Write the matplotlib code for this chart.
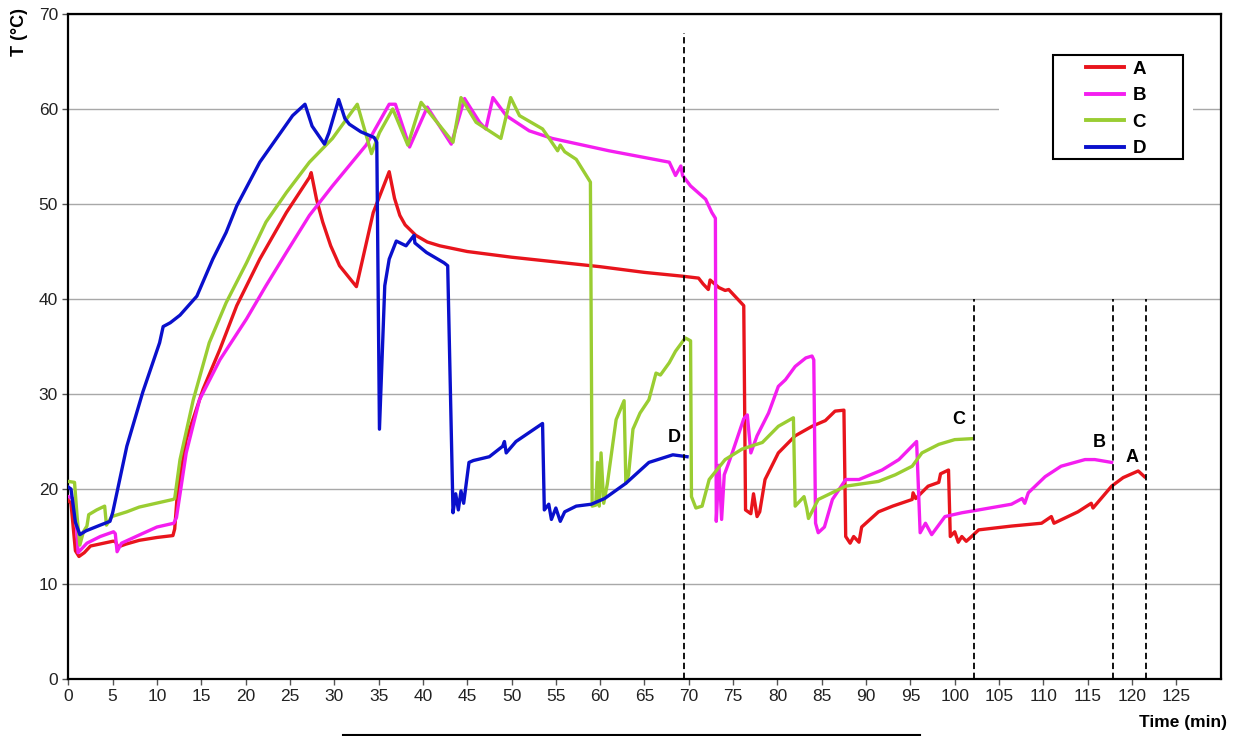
import matplotlib
matplotlib.use('Agg')
from matplotlib import pyplot as plt
from matplotlib.patches import Rectangle
from matplotlib.lines import Line2D

plt.rcParams['font.family'] = ['Liberation Sans', 'DejaVu Sans']

# temperature traces (time in min, T in degC)
a_t = [0, 0.3, 0.8, 1.2, 1.8, 2.5, 4, 5.0, 5.3, 5.6, 6.5, 8, 10, 11.8, 12.0, 12.3, 13.3, 15.2, 17.1,
       19.0, 21.6, 24.6, 27.2, 27.4, 28.0, 28.7, 29.6, 30.6, 32.5, 34.4, 36.2, 36.8, 37.4, 38.0, 39.2,
       40.5, 41.9, 45, 50, 55, 60, 65, 69.3, 71.1, 71.6, 72.2, 72.4, 73.4, 74.1, 74.5, 76.0, 76.2, 76.4,
       77.0, 77.3, 77.7, 78.0, 78.6, 80.1, 82.0, 83.9, 85.4, 86.5, 87.5, 87.7, 88.2, 88.6, 89.2, 89.5,
       91.4, 93, 95.2, 95.3, 95.6, 97.0, 98.2, 98.4, 99.3, 99.5, 100.0, 100.4, 100.8, 101.3, 101.9,
       102.7, 106.4, 109.8, 110.9, 111.2, 113.9, 115.4, 115.6, 117.7, 119, 120.7, 121.4]
a_T = [18.8, 18.5, 13.5, 12.9, 13.3, 14.0, 14.3, 14.5, 14.5, 13.9, 14.2, 14.6, 14.9, 15.1, 15.8, 19.5, 25.2,
       30.5, 34.7, 39.3, 44.2, 49.1, 52.8, 53.3, 50.5, 48.1, 45.6, 43.5, 41.3, 49.1, 53.4, 50.6, 48.8,
       47.8, 46.7, 46.0, 45.6, 45.0, 44.4, 43.9, 43.4, 42.8, 42.4, 42.2, 41.6, 41.0, 42.0, 41.2, 40.9,
       41.0, 39.5, 39.3, 17.8, 17.4, 19.5, 17.1, 17.6, 21.0, 23.8, 25.6, 26.6, 27.2, 28.2, 28.3, 15.0,
       14.3, 15.0, 14.4, 16.0, 17.6, 18.2, 18.9, 19.6, 19.0, 20.3, 20.7, 21.6, 22.0, 15.0, 15.5, 14.4,
       15.0, 14.5, 15.0, 15.7, 16.1, 16.4, 17.1, 16.4, 17.6, 18.5, 18.0, 20.3, 21.2, 21.9, 21.3]

b_t = [0, 0.75, 1.1, 2.1, 3.6, 5.1, 5.3, 5.5, 6.0, 8.1, 10, 11.9, 12.2, 13.3, 14.8, 17.1, 20.1, 22.3,
       24.6, 27.2, 29.8, 33.6, 36.2, 36.9, 38.5, 40.5, 43.2, 44.7, 46.4, 47.1, 47.9, 49.4, 52.0, 54.6,
       61.0, 67.8, 68.5, 69.1, 69.3, 70.2, 71.9, 72.6, 73.0, 73.1, 73.4, 73.7, 74.0, 74.4, 74.9, 76.2,
       76.6, 77.0, 77.7, 79.0, 80.1, 80.9, 82.0, 83.2, 83.9, 84.1, 84.3, 84.6, 85.3, 86.2, 87.7, 89.2,
       91.8, 93.7, 95.7, 96.1, 96.7, 97.4, 98.9, 100.8, 102.7, 106.4, 107.6, 107.9, 108.3, 110.2,
       112.0, 114.7, 115.8, 117.7]
b_T = [19.2, 18.9, 13.3, 14.3, 15.0, 15.5, 15.3, 13.4, 14.3, 15.2, 16.0, 16.4, 17.0, 23.8, 29.4, 33.6,
       37.9, 41.4, 44.9, 48.8, 51.9, 56.2, 60.5, 60.5, 56.0, 60.2, 56.3, 61.1, 58.6, 57.9, 61.2, 59.3,
       57.7, 56.9, 55.6, 54.4, 53.0, 54.0, 53.0, 51.9, 50.5, 49.1, 48.5, 16.6, 22.5, 16.8, 21.5, 22.5,
       23.8, 27.4, 27.8, 23.8, 25.6, 28.0, 30.8, 31.5, 32.9, 33.8, 34.0, 33.6, 16.4, 15.4, 16.0, 18.9,
       21.0, 21.0, 22.0, 23.1, 25.0, 15.4, 16.4, 15.2, 17.1, 17.5, 17.8, 18.4, 19.0, 18.5, 19.6, 21.3,
       22.4, 23.1, 23.1, 22.8]

c_t = [0, 0.7, 1.0, 1.3, 1.7, 2.1, 2.3, 3.2, 4.1, 4.3, 4.9, 6.6, 8, 11.8, 12.0, 12.6, 14.1, 15.9, 17.8,
       20.1, 22.3, 24.6, 27.2, 29.8, 32.6, 34.2, 35.1, 36.6, 38.3, 39.8, 43.4, 44.3, 46.0, 48.8, 49.9,
       50.9, 53.5, 54.4, 55.2, 55.5, 56.0, 57.3, 58.9, 59.1, 59.5, 59.7, 59.9, 60.1, 60.4, 60.8, 61.8,
       62.7, 62.9, 63.2, 63.7, 64.5, 65.5, 66.3, 66.8, 67.8, 68.5, 69.6, 70.2, 70.3, 70.8, 71.5, 72.3,
       74.1, 76.0, 78.3, 80.1, 81.8, 82.0, 83.0, 83.3, 83.5, 84.6, 87.7, 91.4, 93.3, 95.2, 96.3, 98.2,
       100.0, 101.9]
c_T = [20.8, 20.7, 17.0, 14.1, 15.5, 16.1, 17.3, 17.8, 18.2, 16.2, 17.1, 17.6, 18.1, 18.9, 19.0, 23.1,
       29.4, 35.4, 39.6, 43.8, 48.1, 51.2, 54.4, 56.9, 60.5, 55.3, 57.5, 60.0, 56.2, 60.7, 56.5, 61.2,
       58.6, 56.9, 61.2, 59.3, 57.9, 56.7, 55.6, 56.2, 55.5, 54.7, 52.3, 18.2, 18.3, 22.8, 18.2, 23.8,
       18.5, 20.5, 27.3, 29.3, 20.6, 21.5, 26.3, 28.0, 29.4, 32.2, 32.0, 33.3, 34.5, 35.9, 35.6, 19.2,
       18.0, 18.2, 21.0, 23.1, 24.2, 24.9, 26.6, 27.5, 18.2, 19.2, 18.0, 16.9, 18.9, 20.3, 20.8, 21.5,
       22.4, 23.8, 24.7, 25.2, 25.3]

d_t = [0, 0.3, 0.8, 1.3, 2.0, 3.6, 4.7, 5.0, 6.6, 8.4, 10.3, 10.7, 11.5, 12.6, 14.5, 16.3, 17.8, 19.0,
       21.6, 25.3, 26.7, 27.5, 28.9, 29.4, 30.5, 31.2, 31.7, 33.0, 34.5, 34.8, 35.1, 35.7, 36.2, 37.0,
       38.1, 39.0, 39.1, 40.4, 42.4, 42.8, 43.4, 43.7, 44.0, 44.3, 44.6, 45.2, 45.7, 47.5, 49.0, 49.2,
       49.4, 50.5, 53.5, 53.7, 54.2, 54.5, 55.0, 55.5, 56.0, 57.3, 59.0, 60.5, 62.9, 65.5, 68.2, 69.8]
d_T = [20.2, 20.0, 16.5, 15.2, 15.6, 16.2, 16.6, 17.5, 24.5, 30.2, 35.4, 37.1, 37.5, 38.3, 40.3, 44.2,
       47.0, 49.8, 54.4, 59.3, 60.5, 58.2, 56.3, 57.5, 61.0, 59.0, 58.4, 57.6, 57.0, 56.5, 26.3, 41.4,
       44.2, 46.1, 45.6, 46.7, 45.9, 44.9, 43.8, 43.5, 17.5, 19.5, 17.8, 19.8, 18.5, 22.8, 23.0, 23.4,
       24.5, 25.0, 23.8, 25.0, 26.9, 17.8, 18.4, 16.8, 18.0, 16.6, 17.6, 18.2, 18.4, 19.0, 20.6, 22.8,
       23.6, 23.4]

names = ['A', 'B', 'C', 'D']
colors = ['#e8141c', '#f41ef0', '#9acd32', '#0a10cc']

# end-of-run markers (dashed)
end_t = [69.5, 102.2, 117.9, 121.6]
end_top = [68, 40, 40, 40]

fig = plt.figure(figsize=(12.49, 7.36), dpi=100)
ax = fig.add_axes([0.0547, 0.0774, 0.9226, 0.9036])

ax.set_xlim(0, 130)
ax.set_ylim(0, 70)
ax.set_xticks(range(0, 130, 5))
ax.set_yticks(range(0, 71, 10))
ax.set_axisbelow(True)
ax.grid(axis='y', color='#a8a8a8', lw=1)
for s in ax.spines.values():
    s.set_linewidth(1.6)
ax.tick_params(labelsize=12.5, labelcolor='#222222', color='#555555', length=4, width=1)

# blank area behind the legend (grid line is interrupted there)
ax.add_patch(Rectangle((0.808, 0.758), 0.168, 0.203, transform=ax.transAxes,
                       facecolor='white', edgecolor='none', zorder=1))

for t, T, c in zip([a_t, b_t, c_t, d_t], [a_T, b_T, c_T, d_T], colors):
    ax.plot(t, T, color=c, lw=2.4, zorder=3, solid_joinstyle='round')

for x, top in zip(end_t, end_top):
    ax.plot([x, x], [0, top], color='black', lw=1.3, ls=(0, (3.5, 2)), zorder=4)

for n, t, T in zip(names, [a_t, b_t, c_t, d_t], [a_T, b_T, c_T, d_T]):
    ax.annotate(n, (t[-1], T[-1]), xytext=(-9, 14), textcoords='offset points',
                ha='center', va='center', fontsize=13, fontweight='bold', zorder=5)

# legend with a separate frame
ax.add_patch(Rectangle((0.8545, 0.782), 0.1125, 0.156, transform=ax.transAxes,
                       facecolor='white', edgecolor='black', lw=1.5, zorder=5))
handles = [Line2D([], [], color=c, lw=2.8) for c in colors]
leg = ax.legend(handles, names, loc='upper left', bbox_to_anchor=(0.8835, 0.93),
                frameon=False, fontsize=13.5, handlelength=2.0, handletextpad=0.45,
                labelspacing=0.5, borderpad=0, borderaxespad=0)
for txt in leg.get_texts():
    txt.set_fontweight('bold')
leg.set_zorder(6)

fig.text(0.016, 0.957, 'T (°C)', rotation=90, ha='center', va='center',
         fontsize=13, fontweight='bold')
fig.text(0.947, 0.019, 'Time (min)', ha='center', va='center', fontsize=12.5, fontweight='bold')
fig.add_artist(Line2D([0.2746, 0.7366], [0.002, 0.002], color='black', lw=1.5))

fig.savefig('out.png', dpi=100)
